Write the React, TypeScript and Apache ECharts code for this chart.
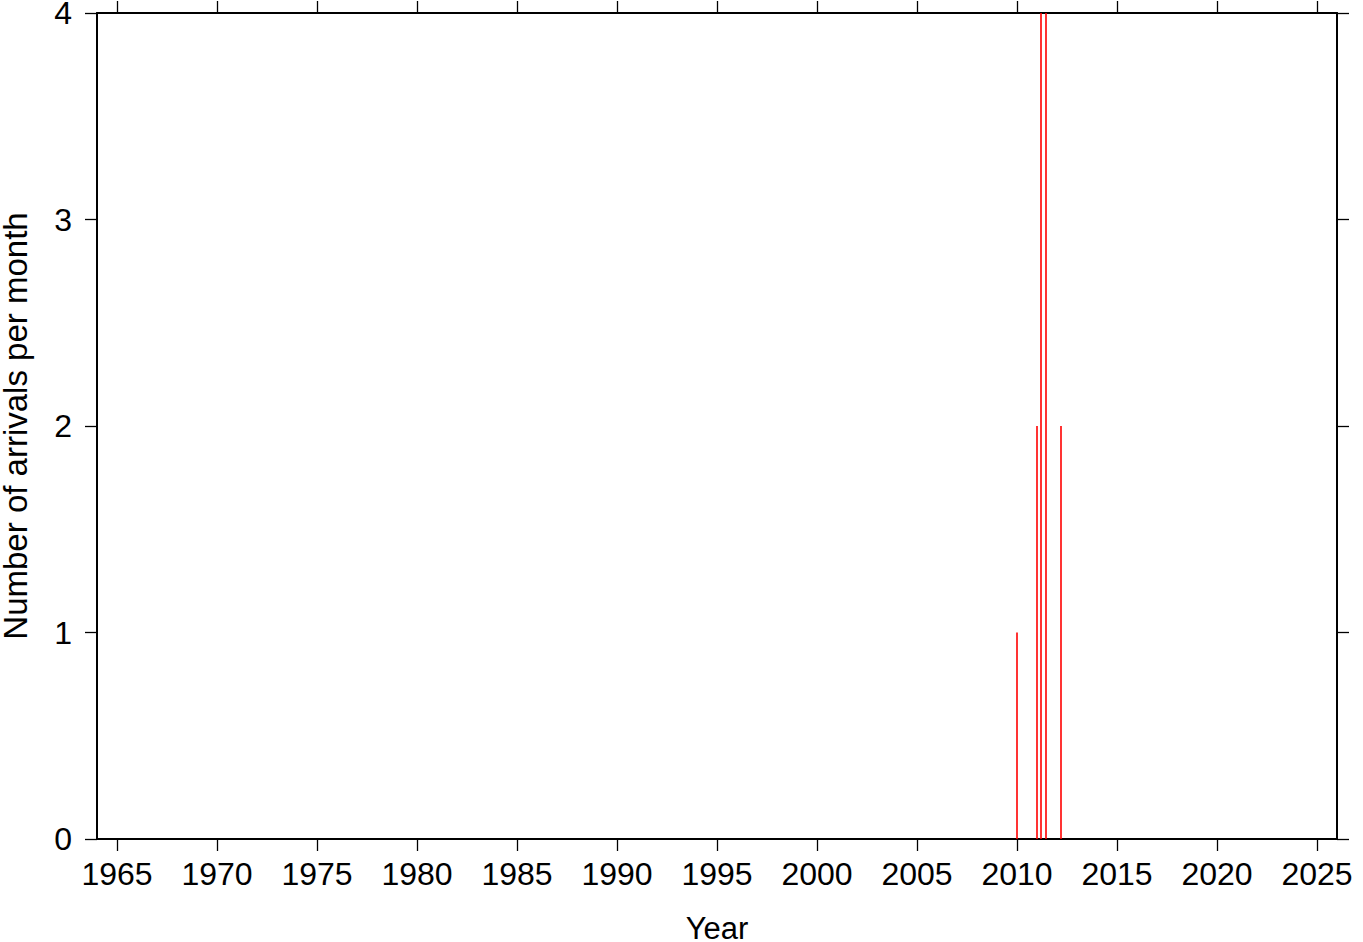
import React, { useEffect, useRef } from "react";
import * as echarts from "echarts";

const yearTicks = [1965, 1970, 1975, 1980, 1985, 1990, 1995, 2000, 2005, 2010, 2015, 2020, 2025];
const countTicks = [0, 1, 2, 3, 4];
const arrivalTimes = [2010.0, 2011.0, 2011.2, 2011.45, 2012.2];
const arrivalCounts = [1, 2, 4, 4, 2];

const FONT = "Liberation Sans, Arial, Helvetica, sans-serif";

export default function App() {
  const ref = useRef<HTMLDivElement>(null);
  useEffect(() => {
    if (!ref.current) return;
    const chart = echarts.init(ref.current, null, { renderer: "svg" });
    const data = arrivalTimes.map((t, i) => [t, arrivalCounts[i]]);
    const axisLine = { show: true, onZero: false, lineStyle: { color: "#000", width: 2 } };
    const tick = (vals: number[]) => ({
      show: true,
      inside: false,
      length: 12,
      lineStyle: { color: "#000", width: 1.3 },
      customValues: vals,
    });
    const fmt = (v: number) => String(v);
    chart.setOption({
      animation: false,
      grid: {
        left: 97,
        right: 26,
        top: 13,
        bottom: 103,
        containLabel: false,
        outerBoundsMode: "none",
      },
      xAxis: [
        {
          type: "value",
          min: 1964,
          max: 2026,
          position: "bottom",
          axisLine,
          axisTick: tick(yearTicks),
          axisLabel: {
            customValues: yearTicks,
            formatter: fmt,
            color: "#000",
            fontSize: 32,
            fontFamily: FONT,
            margin: 19,
          },
          splitLine: { show: false },
        },
        {
          type: "value",
          min: 1964,
          max: 2026,
          position: "top",
          axisLine,
          axisTick: tick(yearTicks),
          axisLabel: { show: false },
          splitLine: { show: false },
        },
      ],
      yAxis: [
        {
          type: "value",
          min: 0,
          max: 4,
          interval: 1,
          position: "left",
          axisLine,
          axisTick: tick(countTicks),
          axisLabel: {
            customValues: countTicks,
            formatter: fmt,
            color: "#000",
            fontSize: 32,
            fontFamily: FONT,
            margin: 25,
          },
          splitLine: { show: false },
        },
        {
          type: "value",
          min: 0,
          max: 4,
          interval: 1,
          position: "right",
          axisLine,
          axisTick: tick(countTicks),
          axisLabel: { show: false },
          splitLine: { show: false },
        },
      ],
      graphic: [
        {
          type: "text",
          x: 717,
          y: 928,
          style: {
            text: "Year",
            font: `31px ${FONT}`,
            fill: "#000",
            align: "center",
            verticalAlign: "middle",
          },
        },
        {
          type: "text",
          x: 15,
          y: 426,
          rotation: Math.PI / 2,
          style: {
            text: "Number of arrivals per month",
            font: `33px ${FONT}`,
            fill: "#000",
            align: "center",
            verticalAlign: "middle",
          },
        },
      ],
      series: [
        {
          type: "custom",
          xAxisIndex: 0,
          yAxisIndex: 0,
          data,
          renderItem: (params: any, api: any) => {
            const x = api.value(0);
            const y = api.value(1);
            const p0 = api.coord([x, 0]);
            const p1 = api.coord([x, y]);
            return {
              type: "line",
              shape: { x1: p0[0], y1: p0[1], x2: p1[0], y2: p1[1] },
              style: { stroke: "#ff0000", lineWidth: 1.6 },
            };
          },
          z: 1,
        },
      ],
    });
    return () => chart.dispose();
  }, []);
  return (
    <div
      ref={ref}
      style={{ position: "fixed", left: 0, top: 0, width: 1363, height: 942, background: "#fff" }}
    />
  );
}
